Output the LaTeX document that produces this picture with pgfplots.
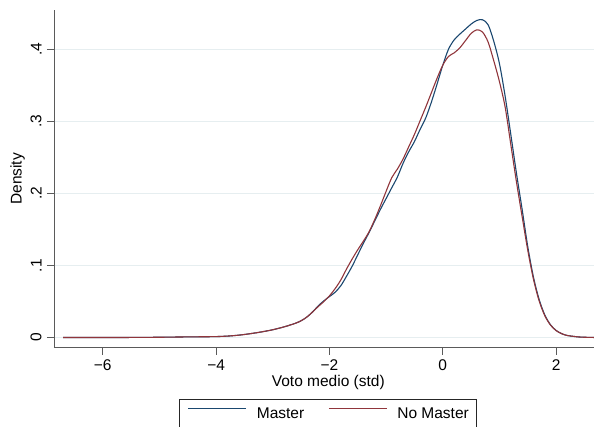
\documentclass[border=0pt]{standalone}
\usepackage{fontspec}
\setmainfont{Liberation Sans}
\usepackage{pgfplots}
\usepackage{pgfplotstable}
\pgfplotsset{compat=1.18}

\definecolor{stblue}{RGB}{26,71,111}
\definecolor{stred}{RGB}{144,53,59}
\definecolor{stgrid}{RGB}{230,238,240}
\definecolor{staxis}{RGB}{90,90,90}

% Kernel density estimates of the standardised average vote
\pgfplotstableread{
x y
-6.70 0.0002
-6.20 0.0002
-5.60 0.0003
-5.00 0.0006
-4.60 0.0010
-4.20 0.0013
-4.00 0.0015
-3.80 0.0022
-3.60 0.0035
-3.40 0.0055
-3.20 0.0080
-3.00 0.0110
-2.80 0.0150
-2.60 0.0200
-2.50 0.0235
-2.40 0.0285
-2.30 0.0355
-2.20 0.0440
-2.10 0.0510
-2.00 0.0570
-1.90 0.0630
-1.80 0.0720
-1.70 0.0850
-1.60 0.0990
-1.50 0.1150
-1.40 0.1310
-1.30 0.1460
-1.20 0.1620
-1.10 0.1780
-1.00 0.1930
-0.90 0.2080
-0.80 0.2230
-0.70 0.2420
-0.60 0.2580
-0.50 0.2720
-0.40 0.2890
-0.30 0.3050
-0.20 0.3270
-0.10 0.3520
0.00 0.3780
0.10 0.4000
0.20 0.4130
0.30 0.4210
0.40 0.4280
0.50 0.4350
0.60 0.4400
0.70 0.4410
0.80 0.4340
0.90 0.4110
1.00 0.3800
1.10 0.3350
1.20 0.2820
1.30 0.2280
1.40 0.1780
1.50 0.1260
1.60 0.0840
1.70 0.0530
1.80 0.0315
1.90 0.0180
2.00 0.0100
2.10 0.0055
2.20 0.0030
2.40 0.0010
2.60 0.0004
2.82 0.0002
}\master

\pgfplotstableread{
x y
-6.70 0.0002
-6.20 0.0002
-5.60 0.0003
-5.00 0.0006
-4.60 0.0010
-4.20 0.0013
-4.00 0.0015
-3.80 0.0022
-3.60 0.0035
-3.40 0.0055
-3.20 0.0080
-3.00 0.0110
-2.80 0.0150
-2.60 0.0200
-2.50 0.0235
-2.40 0.0285
-2.30 0.0355
-2.20 0.0430
-2.10 0.0500
-2.00 0.0580
-1.90 0.0680
-1.80 0.0800
-1.70 0.0950
-1.60 0.1090
-1.50 0.1220
-1.40 0.1340
-1.30 0.1470
-1.20 0.1640
-1.10 0.1830
-1.00 0.2030
-0.90 0.2220
-0.80 0.2340
-0.70 0.2480
-0.60 0.2650
-0.50 0.2820
-0.40 0.3010
-0.30 0.3200
-0.20 0.3400
-0.10 0.3600
0.00 0.3780
0.10 0.3900
0.20 0.3950
0.30 0.4020
0.40 0.4120
0.50 0.4220
0.60 0.4270
0.70 0.4240
0.80 0.4100
0.90 0.3840
1.00 0.3550
1.10 0.3200
1.20 0.2680
1.30 0.2160
1.40 0.1680
1.50 0.1210
1.60 0.0810
1.70 0.0510
1.80 0.0305
1.90 0.0175
2.00 0.0098
2.10 0.0055
2.20 0.0030
2.40 0.0010
2.60 0.0004
2.82 0.0002
}\nomaster

\begin{document}
\fontsize{15.5}{18}\selectfont
\begin{tikzpicture}
\begin{axis}[
  at={(0,0)}, anchor=south west,
  scale only axis, width=548.6pt, height=337.7pt,
  xmin=-6.86, xmax=2.82, ymin=-0.0139, ymax=0.4545,
  axis x line*=bottom, axis y line*=left,
  axis line style={staxis, line width=0.9pt},
  tick style={staxis, line width=0.9pt},
  tick align=outside, major tick length=7pt,
  xtick={-6,-4,-2,0,2}, xticklabels={−6,−4,−2,0,2},
  ytick={0,0.1,0.2,0.3,0.4}, yticklabels={0,.1,.2,.3,.4},
  yticklabel style={rotate=90, anchor=south},
  ymajorgrids, major grid style={stgrid, line width=1.2pt},
  xlabel={Voto medio (std)},
  xlabel style={at={(axis description cs:0.5,0)}, anchor=base, yshift=-39pt},
  ylabel={Density},
  ylabel style={at={(axis description cs:-0.0665,0.5)}, anchor=center, rotate=0},
  legend columns=2,
  legend image code/.code={\draw[#1] (0pt,0.36em) -- (58pt,0.36em);},
  legend style={at={(0.5,0)}, anchor=north, yshift=-51.3pt,
    draw=black!85, line width=0.8pt, inner xsep=8pt, inner ysep=8pt,
    nodes={inner sep=0pt},
    /tikz/every odd column/.append style={column sep=10pt},
    /tikz/every even column/.append style={column sep=24pt}},
]
\addplot[stblue, line width=1.1pt, smooth] table {\master};
\addlegendentry{Master}
\addplot[stred, line width=1.1pt, smooth] table {\nomaster};
\addlegendentry{No Master}
\end{axis}
\pgfresetboundingbox
\path (-54pt,-78.3pt) rectangle (540pt,347.7pt);
\end{tikzpicture}
\end{document}
